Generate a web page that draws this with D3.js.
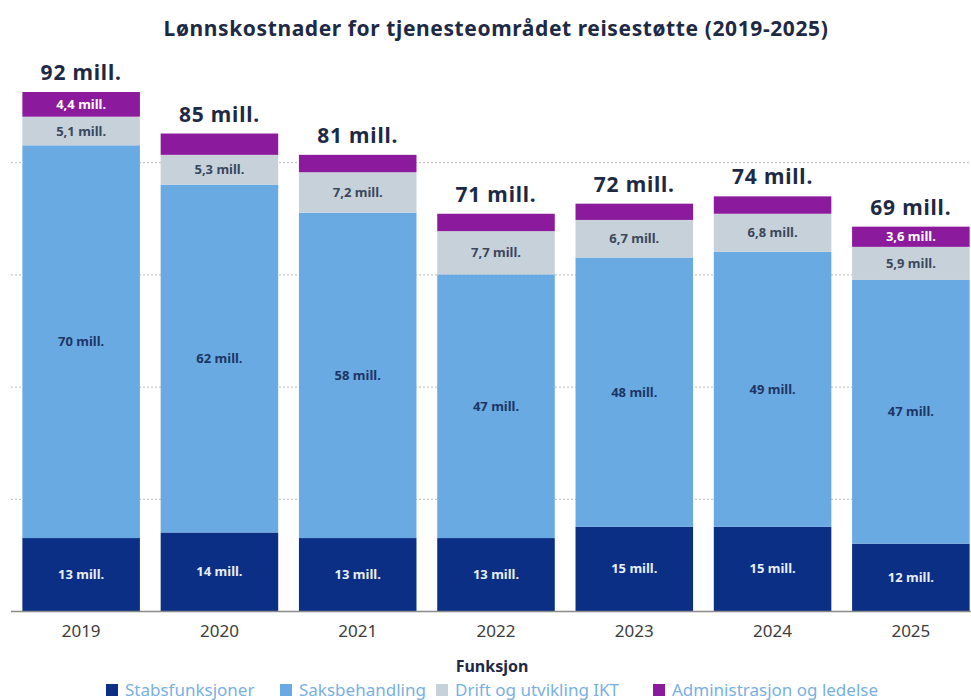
<!DOCTYPE html>
<html>
<head>
<meta charset="utf-8">
<script src="https://cdn.jsdelivr.net/npm/d3@7"></script>
<style>
  body { margin: 0; background: #fff; }
  svg { font-family: "Noto Sans", "Open Sans", sans-serif; }
</style>
</head>
<body>
<div class="chart"></div>
<script>
// chart data
var years = ["2019", "2020", "2021", "2022", "2023", "2024", "2025"];
var seriesNames = ["Stabsfunksjoner", "Saksbehandling", "Drift og utvikling IKT", "Administrasjon og ledelse"];
var stabs = [13, 14, 13, 13, 15, 15, 12];
var saks = [70, 62, 58, 47, 48, 49, 47];
var drift = [5.1, 5.3, 7.2, 7.7, 6.7, 6.8, 5.9];
var admin = [4.4, 3.8, 3.1, 3.1, 2.9, 3.1, 3.6];
var totals = ["92 mill.", "85 mill.", "81 mill.", "71 mill.", "72 mill.", "74 mill.", "69 mill."];
var stabsLabels = ["13 mill.", "14 mill.", "13 mill.", "13 mill.", "15 mill.", "15 mill.", "12 mill."];
var saksLabels = ["70 mill.", "62 mill.", "58 mill.", "47 mill.", "48 mill.", "49 mill.", "47 mill."];
var driftLabels = ["5,1 mill.", "5,3 mill.", "7,2 mill.", "7,7 mill.", "6,7 mill.", "6,8 mill.", "5,9 mill."];
var adminLabels = ["4,4 mill.", null, null, null, null, null, "3,6 mill."];
var gridTicks = [20, 40, 60, 80];

var colors = ["#0b2f85", "#6aaae2", "#c6d1da", "#8c1a9c"];
var labelColors = ["#e8eef8", "#1d3564", "#3a475c", "#ffffff"];

var svgWidth = 971, svgHeight = 700;
var baseY = 611;

var svg = d3.select(".chart").append("svg")
  .attr("width", svgWidth)
  .attr("height", svgHeight);

// scales
var x = d3.scaleBand()
  .domain(years)
  .range([12, 980])
  .paddingInner(0.15)
  .paddingOuter(0.075);

var y = d3.scaleLinear()
  .domain([0, 92.5])
  .range([baseY, 92]);

// title
svg.append("text")
  .attr("x", 496)
  .attr("y", 36)
  .attr("text-anchor", "middle")
  .style("font-size", "21px")
  .style("font-weight", "bold")
  .style("letter-spacing", "0.6px")
  .style("fill", "#1e2a45")
  .text("Lønnskostnader for tjenesteområdet reisestøtte (2019-2025)");

// dotted gridlines
svg.append("g").selectAll("line")
  .data(gridTicks)
  .enter()
  .append("line")
  .attr("x1", 11)
  .attr("x2", 971)
  .attr("y1", d => y(d) + 0.5)
  .attr("y2", d => y(d) + 0.5)
  .attr("stroke", "#c8c8c8")
  .attr("stroke-width", 1.2)
  .attr("stroke-dasharray", "2,2");

// stack the data
var rows = years.map(function(yr, i) {
  return { year: yr, s0: stabs[i], s1: saks[i], s2: drift[i], s3: admin[i] };
});
var keys = ["s0", "s1", "s2", "s3"];
var labelSets = [stabsLabels, saksLabels, driftLabels, adminLabels];
var stacked = d3.stack().keys(keys)(rows);

var layers = svg.append("g").selectAll("g")
  .data(stacked)
  .enter()
  .append("g")
  .attr("fill", (d, i) => colors[i]);

layers.selectAll("rect")
  .data(d => d)
  .enter()
  .append("rect")
  .attr("x", d => x(d.data.year))
  .attr("width", x.bandwidth())
  .attr("y", d => y(d[1]))
  .attr("height", d => y(d[0]) - y(d[1]));

// segment labels
stacked.forEach(function(layer, k) {
  svg.append("g").selectAll("text")
    .data(layer)
    .enter()
    .filter((d, i) => labelSets[k][i] !== null)
    .append("text")
    .attr("x", d => x(d.data.year) + x.bandwidth() / 2)
    .attr("y", d => (y(d[0]) + y(d[1])) / 2)
    .attr("dy", "0.35em")
    .attr("text-anchor", "middle")
    .style("font-size", "13px")
    .style("font-weight", "bold")
    .style("fill", labelColors[k])
    .text(d => labelSets[k][years.indexOf(d.data.year)]);
});

// totals above bars
svg.append("g").selectAll("text")
  .data(rows)
  .enter()
  .append("text")
  .attr("x", d => x(d.year) + x.bandwidth() / 2)
  .attr("y", d => y(d.s0 + d.s1 + d.s2 + d.s3) - 12)
  .attr("text-anchor", "middle")
  .style("font-size", "21px")
  .style("font-weight", "bold")
  .style("letter-spacing", "0.8px")
  .style("fill", "#1e2a45")
  .text((d, i) => totals[i]);

// baseline + year labels
svg.append("line")
  .attr("x1", 11).attr("x2", 971)
  .attr("y1", baseY + 0.5).attr("y2", baseY + 0.5)
  .attr("stroke", "#8a8a8a")
  .attr("stroke-width", 1.5);

var xAxis = d3.axisBottom(x).tickSize(0).tickPadding(0);
var axisG = svg.append("g")
  .attr("transform", `translate(0, ${baseY})`)
  .call(xAxis);
axisG.select(".domain").remove();
axisG.selectAll("text")
  .attr("y", 26)
  .attr("dy", 0)
  .style("font-size", "17px")
  .style("font-family", "\"Noto Sans\", sans-serif")
  .style("fill", "#3d3d3d");

// legend
svg.append("text")
  .attr("x", 492)
  .attr("y", 672)
  .attr("text-anchor", "middle")
  .style("font-size", "16px")
  .style("font-weight", "bold")
  .style("fill", "#1e2a45")
  .text("Funksjon");

var legendX = [106, 280, 436, 653];
var legend = svg.append("g").selectAll("g")
  .data(seriesNames)
  .enter()
  .append("g")
  .attr("transform", (d, i) => `translate(${legendX[i]}, 684)`);

legend.append("rect")
  .attr("width", 12)
  .attr("height", 12)
  .attr("fill", (d, i) => colors[i]);

legend.append("text")
  .attr("x", 19)
  .attr("y", 12)
  .style("font-size", "17px")
  .style("fill", "#78b0e4")
  .text(d => d);
</script>
</body>
</html>
